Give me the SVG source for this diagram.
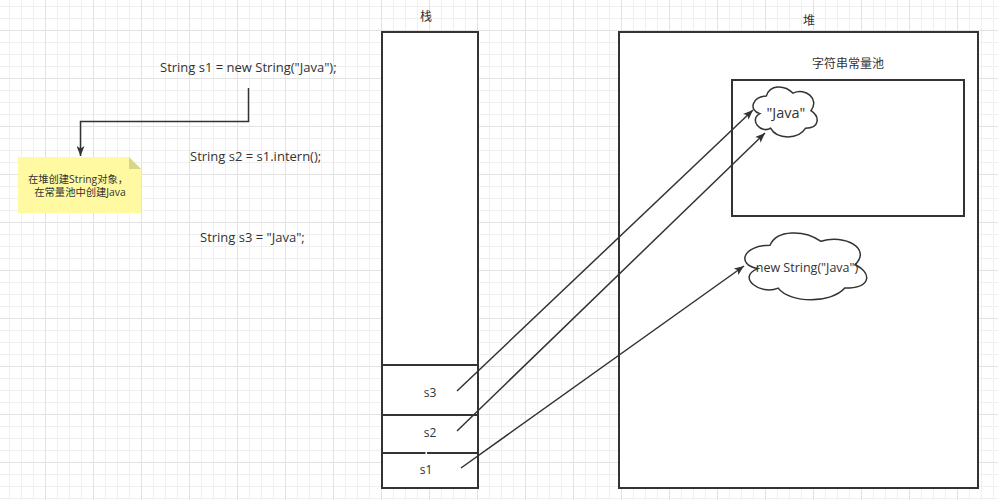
<svg xmlns="http://www.w3.org/2000/svg" width="998" height="500" viewBox="0 0 998 500">
<defs>
<pattern id="grid" x="45" y="30" width="48" height="48" patternUnits="userSpaceOnUse">
<path d="M12.5,0 V48 M24.5,0 V48 M36.5,0 V48 M0,12.5 H48 M0,24.5 H48 M0,36.5 H48" stroke="#f0f0f0" stroke-width="1" fill="none"/>
<path d="M0.5,0 V48 M0,0.5 H48" stroke="#e2e2e2" stroke-width="1" fill="none"/>
</pattern>
<marker id="arr" viewBox="0 0 10 8" refX="10" refY="4" markerWidth="10" markerHeight="8" markerUnits="userSpaceOnUse" orient="auto">
<path d="M0,0 L10,4 L0,8 L2.5,4 z" fill="#333"/>
</marker>
<style>
text{font-family:"Open Sans","Noto Sans","Noto Sans CJK SC",sans-serif;fill:#333;}
.code{font-size:13px;}
.lbl{font-size:12px;text-anchor:middle;dominant-baseline:central;}
.note{font-size:10.3px;text-anchor:middle;dominant-baseline:central;}
.box{fill:#fff;stroke:#333;stroke-width:2;}
.cloud{fill:#fff;stroke:#333;stroke-width:1.5;}
.conn{fill:none;stroke:#333;stroke-width:1.5;marker-end:url(#arr);}
.sep{stroke:#333;stroke-width:2;fill:none;}
</style>
</defs>
<rect x="0" y="0" width="998" height="500" fill="#fff"/>
<rect x="0" y="0" width="998" height="500" fill="url(#grid)"/>

<g id="code1"><text class="code" x="160" y="72">String s1 = new String("Java");</text></g>
<g id="code2"><text class="code" x="190" y="161">String s2 = s1.intern();</text></g>
<g id="code3"><text class="code" x="200" y="242">String s3 = "Java";</text></g>

<g id="note">
<polygon points="18,157 129,157 141,169 141,213 18,213" fill="#fff9a1"/>
<polygon points="129,157 141,169 129,169" fill="#d9d68a"/>
<text class="note" x="78" y="179">在堆创建String对象，</text>
<text class="note" x="80" y="192"> 在常量池中创建Java</text>
</g>

<g id="stack">
<text class="lbl" x="426" y="16">栈</text>
<rect class="box" x="382" y="32" width="96" height="456"/>
<line class="sep" x1="382" y1="365" x2="478" y2="365"/>
<line class="sep" x1="382" y1="415" x2="478" y2="415"/>
<line class="sep" x1="382" y1="453" x2="425.5" y2="453"/>
<line class="sep" x1="427" y1="453" x2="478" y2="453"/>
</g>
<g id="s3"><text class="lbl" x="430" y="392">s3</text></g>
<g id="s2"><text class="lbl" x="430" y="432">s2</text></g>
<g id="s1"><text class="lbl" x="426" y="469">s1</text></g>

<g id="heap">
<text class="lbl" x="809" y="20">堆</text>
<rect class="box" x="619" y="32" width="359" height="456"/>
</g>

<g id="pool">
<text class="lbl" x="848" y="63">字符串常量池</text>
<rect class="box" x="732" y="80" width="232" height="136"/>
</g>

<g id="cloudJava">
<path class="cloud" transform="translate(748.4,81.5) scale(71.5,58.4)" vector-effect="non-scaling-stroke" d="M0.25,0.25 C0.05,0.25 0,0.5 0.16,0.55 C0,0.66 0.18,0.9 0.31,0.8 C0.4,1 0.7,1 0.8,0.8 C1,0.8 1,0.6 0.875,0.5 C1,0.3 0.8,0.1 0.625,0.2 C0.5,0.05 0.3,0.05 0.25,0.25 Z"/>
<text class="lbl" x="786" y="112" style="font-size:14.5px">"Java"</text>
</g>

<g id="cloudNew">
<path class="cloud" transform="translate(736,225.7) scale(136,78)" vector-effect="non-scaling-stroke" d="M0.25,0.25 C0.05,0.25 0,0.5 0.16,0.55 C0,0.66 0.18,0.9 0.31,0.8 C0.4,1 0.7,1 0.8,0.8 C1,0.8 1,0.6 0.875,0.5 C1,0.3 0.8,0.1 0.625,0.2 C0.5,0.05 0.3,0.05 0.25,0.25 Z"/>
<text class="lbl" x="807" y="267" style="font-size:12.5px">new String("Java")</text>
</g>

<g id="connectors">
<path class="conn" d="M248.5,88 V121.5 H80.5 V156"/>
<path class="conn" d="M457,391 L753,110"/>
<path class="conn" d="M457,431 L765,133"/>
<path class="conn" d="M461,468 L744,266"/>
</g>
</svg>
